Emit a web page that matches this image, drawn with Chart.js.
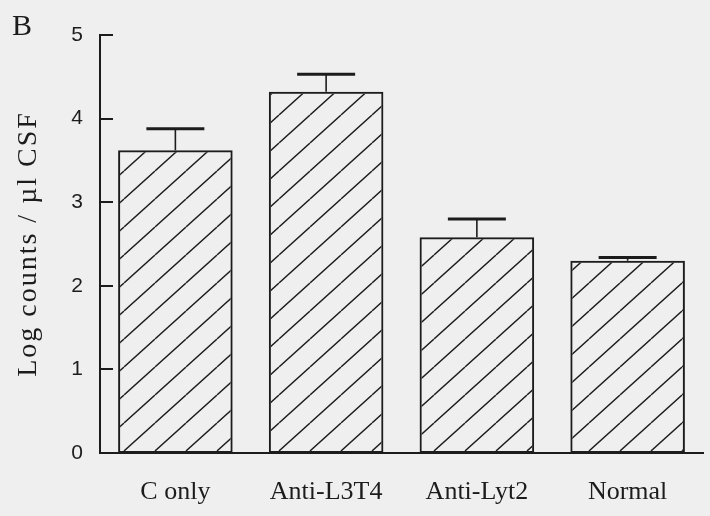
<!DOCTYPE html>
<html>
<head>
<meta charset="utf-8">
<script src="https://cdn.jsdelivr.net/npm/chart.js@4"></script>
<style>
  html, body { margin: 0; padding: 0; background: #efefef; }
  #wrap { width: 710px; height: 516px; }
</style>
</head>
<body>
<div id="wrap"><canvas id="chart" width="710" height="516"></canvas></div>
<script>
// Groups and measured CSF cell counts (log10 counts per µl), mean and SEM
const groups = ['C only', 'Anti-L3T4', 'Anti-Lyt2', 'Normal'];
const meanLogCounts = [3.62, 4.32, 2.58, 2.30];
const semLogCounts = [0.26, 0.21, 0.22, 0.04];
const yTicks = [0, 1, 2, 3, 4, 5];
const yTitle = 'Log counts / \u00b5l CSF';
const panelLetter = 'B';

const INK = '#1c1c1c';

// Diagonal hatching used to fill the bars
function makeHatch(ctx) {
  const w = 31, h = 28;
  const tile = document.createElement('canvas');
  tile.width = w; tile.height = h;
  const t = tile.getContext('2d');
  t.strokeStyle = INK;
  t.lineWidth = 1.4;
  t.beginPath();
  for (let k = -1; k <= 1; k++) {
    t.moveTo(k * w, h);
    t.lineTo(k * w + w, 0);
  }
  t.stroke();
  const p = ctx.createPattern(tile, 'repeat');
  p.setTransform(new DOMMatrix().translate(0, 3));
  return p;
}

const canvas = document.getElementById('chart');
const ctx = canvas.getContext('2d');

// Page background, panel letter and rotated y-axis title
const decorations = {
  id: 'decorations',
  beforeDraw(chart) {
    const c = chart.ctx;
    c.save();
    c.fillStyle = '#efefef';
    c.fillRect(0, 0, chart.width, chart.height);
    c.restore();
  },
  afterDraw(chart) {
    const c = chart.ctx;
    const area = chart.chartArea;
    c.save();
    c.fillStyle = INK;
    c.font = '30px "Liberation Serif"';
    c.textBaseline = 'alphabetic';
    c.textAlign = 'left';
    c.fillText(panelLetter, 12, 35);

    c.translate(29, (area.top + area.bottom) / 2);
    c.rotate(-Math.PI / 2);
    c.font = '28px "Liberation Serif"';
    c.letterSpacing = '2px';
    c.textAlign = 'center';
    c.textBaseline = 'middle';
    c.fillText(yTitle, 0, 0);
    c.restore();
  }
};

// Inward tick marks on the y axis
const innerTicks = {
  id: 'innerTicks',
  afterDraw(chart) {
    const c = chart.ctx;
    const y = chart.scales.y;
    const x0 = chart.chartArea.left;
    c.save();
    c.strokeStyle = INK;
    c.lineWidth = 2;
    c.beginPath();
    yTicks.forEach(v => {
      if (v === 0) return;
      const py = Math.round(y.getPixelForValue(v));
      c.moveTo(x0, py);
      c.lineTo(x0 + 13, py);
    });
    c.stroke();
    c.restore();
  }
};

// Upper SEM whiskers above each bar
const errorBars = {
  id: 'errorBars',
  afterDatasetsDraw(chart) {
    const c = chart.ctx;
    const y = chart.scales.y;
    const meta = chart.getDatasetMeta(0);
    c.save();
    c.strokeStyle = INK;
    meta.data.forEach((bar, i) => {
      const top = y.getPixelForValue(meanLogCounts[i]);
      const end = y.getPixelForValue(meanLogCounts[i] + semLogCounts[i]);
      const half = 29;
      c.lineWidth = 1.6;
      c.beginPath();
      c.moveTo(bar.x, top);
      c.lineTo(bar.x, end);
      c.stroke();
      c.lineWidth = 3;
      c.beginPath();
      c.moveTo(bar.x - half, end);
      c.lineTo(bar.x + half, end);
      c.stroke();
    });
    c.restore();
  }
};

new Chart(ctx, {
  type: 'bar',
  data: {
    labels: groups,
    datasets: [{
      data: meanLogCounts,
      backgroundColor: makeHatch(ctx),
      borderColor: INK,
      borderWidth: 2,
      borderSkipped: false,
      categoryPercentage: 1,
      barPercentage: 0.76
    }]
  },
  options: {
    responsive: false,
    animation: false,
    devicePixelRatio: 1,
    layout: { padding: { left: 0, right: 7, top: 35, bottom: 0 } },
    plugins: { legend: { display: false }, tooltip: { enabled: false } },
    scales: {
      x: {
        grid: { display: false, drawTicks: false },
        border: { display: true, color: INK, width: 2 },
        ticks: {
          color: INK,
          padding: 24,
          font: { family: '"Liberation Serif"', size: 26 }
        },
        afterFit(scale) { scale.height = 63; }
      },
      y: {
        min: 0,
        max: 5,
        afterBuildTicks(scale) { scale.ticks = yTicks.map(v => ({ value: v })); },
        grid: { display: false, drawTicks: false },
        border: { display: true, color: INK, width: 2 },
        ticks: {
          color: INK,
          padding: 17,
          font: { family: '"Liberation Sans"', size: 21 }
        },
        afterFit(scale) { scale.width = 100; }
      }
    }
  },
  plugins: [decorations, innerTicks, errorBars]
});
</script>
</body>
</html>
